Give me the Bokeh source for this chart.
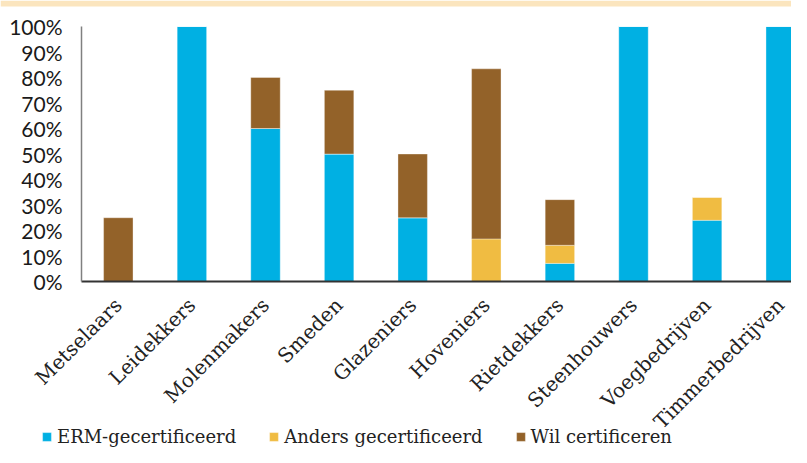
import math
from bokeh.plotting import figure
from bokeh.models import (ColumnDataSource, Range1d, FixedTicker, NumeralTickFormatter,
                          Legend, LegendItem, BoxAnnotation, LinearAxis)
from bokeh.embed import file_html
from bokeh.resources import INLINE

categories = ["Metselaars", "Leidekkers", "Molenmakers", "Smeden", "Glazeniers",
              "Hoveniers", "Rietdekkers", "Steenhouwers", "Voegbedrijven", "Timmerbedrijven"]
erm = [0.0, 1.00, 0.60, 0.50, 0.25, 0.0, 0.071, 1.00, 0.24, 1.00]
anders = [0.0, 0.0, 0.0, 0.0, 0.0, 0.167, 0.071, 0.0, 0.09, 0.0]
wil = [0.25, 0.0, 0.20, 0.25, 0.25, 0.667, 0.179, 0.0, 0.0, 0.0]
series_names = ["ERM-gecertificeerd", "Anders gecertificeerd", "Wil certificeren"]
y_ticks = [0.0, 0.1, 0.2, 0.3, 0.4, 0.5, 0.6, 0.7, 0.8, 0.9, 1.0]

colors = ["#00B0E3", "#F0BC42", "#936229"]

src = ColumnDataSource(dict(x=list(range(len(categories))), erm=erm, anders=anders, wil=wil))

W, H = 791, 447
PX_X = 73.6    # pixels per category
PX_Y = 255.0   # pixels per 100%
x0 = -0.5 - 81 / PX_X
y1 = 1 + 26 / PX_Y
p = figure(width=W, height=H, output_backend="svg", toolbar_location=None,
           x_range=Range1d(x0, x0 + W / PX_X), y_range=Range1d(y1 - H / PX_Y, y1),
           min_border=0, x_axis_location=None, y_axis_location=None)
p.outline_line_color = None
p.xgrid.visible = False
p.ygrid.visible = False

# light header band
p.add_layout(BoxAnnotation(bottom=y1 - 6 / PX_Y, fill_color="#FBE5BE", fill_alpha=1,
                           line_color=None))

rs = p.vbar_stack(["erm", "anders", "wil"], x="x", width=0.4, source=src,
                  color=colors, line_color="white", line_alpha=0.35, line_width=1)

xaxis = LinearAxis(fixed_location=0, bounds=(-0.5, x0 + W / PX_X))
xaxis.ticker = FixedTicker(ticks=list(range(len(categories))))
xaxis.major_label_overrides = {i: c for i, c in enumerate(categories)}
xaxis.major_label_orientation = math.pi / 4
xaxis.major_label_text_font = "DejaVu Serif"
xaxis.major_label_text_font_size = "20px"
xaxis.major_label_text_color = "#222222"
xaxis.major_label_standoff = 14
xaxis.major_tick_line_color = None
xaxis.minor_tick_line_color = None
xaxis.axis_line_color = "#333333"
xaxis.axis_line_width = 2
p.add_layout(xaxis, "below")

yaxis = LinearAxis(fixed_location=-0.5, bounds=(0, 1))
yaxis.ticker = FixedTicker(ticks=y_ticks)
yaxis.formatter = NumeralTickFormatter(format="0%")
yaxis.major_label_text_font = "Lato"
yaxis.major_label_text_font_size = "21px"
yaxis.major_label_text_color = "#1a1a1a"
yaxis.major_label_standoff = 13
yaxis.major_tick_line_color = None
yaxis.minor_tick_line_color = None
yaxis.axis_line_color = "#808080"
yaxis.axis_line_width = 1.5
p.add_layout(yaxis, "left")

legend = Legend(items=[LegendItem(label=n, renderers=[r]) for n, r in zip(series_names, rs)],
                orientation="horizontal", location=(41, 0),
                glyph_width=11, glyph_height=11, label_standoff=5, spacing=32,
                padding=0, margin=0, border_line_color=None, background_fill_alpha=0,
                label_text_font="DejaVu Serif", label_text_font_size="18px",
                label_text_color="#222222", label_height=20)
p.add_layout(legend, "center")

open("out.html", "w").write(file_html(p, INLINE))
